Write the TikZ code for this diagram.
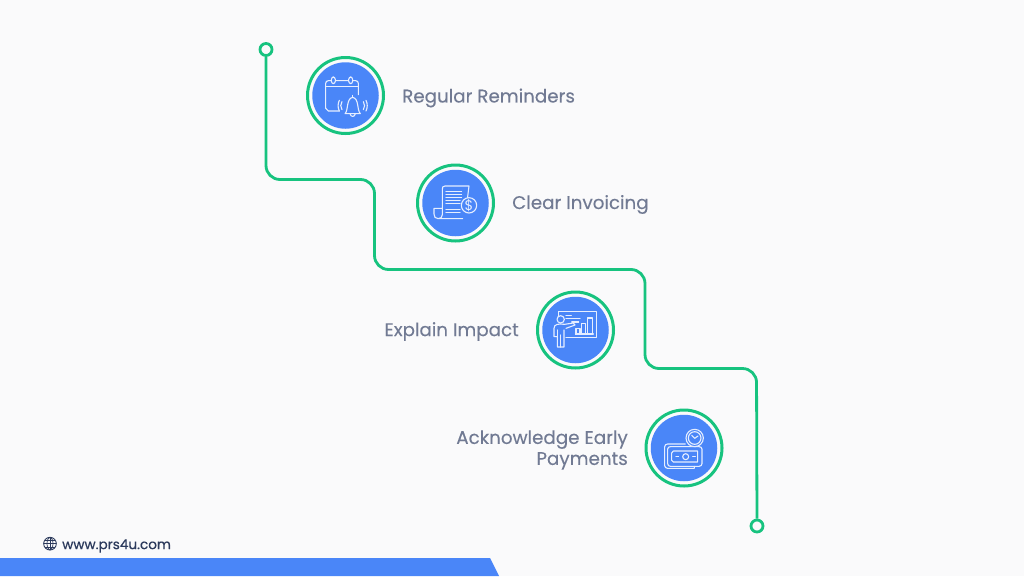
\documentclass[tikz,border=0pt]{standalone}
\usepackage{fontspec}
\setmainfont{Poppins}
\newfontfamily\webfont[FakeBold=0.6]{Poppins}
\newfontfamily\labelfont[FakeBold=0.15]{Poppins}
\definecolor{bgc}{HTML}{FAFAFB}
\definecolor{blu}{HTML}{4A86F8}
\definecolor{grn}{HTML}{17C37F}
\definecolor{txt}{HTML}{717A93}
\definecolor{web}{HTML}{2C3A5C}
\definecolor{ico}{HTML}{E6EEFF}
\tikzset{
  badge/.style={circle,draw=grn,line width=3pt,fill=bgc,minimum size=76pt,inner sep=0pt},
  core/.style={circle,fill=blu,minimum size=66.5pt,inner sep=0pt},
  label/.style={text=txt,font=\labelfont\fontsize{18.3}{21}\selectfont,inner sep=0pt},
  endpt/.style={circle,draw=grn,line width=2.8pt,fill=bgc,minimum size=12pt,inner sep=0pt},
  route/.style={draw=grn,line width=2.8pt,rounded corners=14pt},
  ic/.style={draw=ico,line width=1.1pt,line cap=round,line join=round},
  local/.style={x=0.33333pt,y=-0.33333pt}
}
\begin{document}
\begin{tikzpicture}[x=1pt,y=-1pt]
\useasboundingbox (0,0) rectangle (1024,576);
\fill[bgc] (0,0) rectangle (1024,576);
\fill[blu] (0,558) -- (490,558) -- (499,576) -- (0,576) -- cycle;

% route
\node[endpt] (start) at (266,49.5) {};
\node[endpt] (finish) at (757,526) {};
\coordinate (c1) at (266,179.5);
\coordinate (c2) at (374.5,179.5);
\coordinate (c3) at (374.5,269.5);
\coordinate (c4) at (645,269.5);
\coordinate (c5) at (645,368.5);
\coordinate (c6) at (756.5,368.5);
\path[route] (start) -- (c1) -- (c2) -- (c3) -- (c4) -- (c5) -- (c6) -- (finish);

% badges
\node[badge] (b1) at (345.5,95.5) {};
\node[core] at (b1) {};
\node[badge] (b2) at (455.5,203) {};
\node[core] at (b2) {};
\node[badge] (b3) at (575.5,330) {};
\node[core] at (b3) {};
\node[badge] (b4) at (684,448) {};
\node[core] at (b4) {};

% labels
\node[label,anchor=west] (l1) at (402,98) {Regular Reminders};
\node[label,anchor=west] (l2) at (512,204.5) {Clear Invoicing};
\node[label,anchor=east] (l3) at (519,331.5) {Explain Impact};
\node[label,anchor=east,align=right] (l4) at (628,450) {Acknowledge Early\\Payments};

% icon 1: calendar and bell
\begin{scope}[shift={(300,50)},local]
\draw[ic] (118,183) -- (85,183) to[out=180,in=90] (77,175) -- (77,100) to[out=90,in=180] (85,92) -- (93,92);
\draw[ic] (108,92) -- (145,92) (160,92) -- (167,92) to[out=0,in=90] (175,100) -- (175,134);
\draw[ic] (77,109) -- (175,109);
\draw[ic,rounded corners=2.5pt] (94,81) rectangle (106,101);
\draw[ic,rounded corners=2.5pt] (146,81) rectangle (158,101);
\draw[ic] (135,191) .. controls (146,180) and (138,146) .. (158,142) .. controls (178,146) and (170,180) .. (181,191) -- cycle;
\draw[ic] (158,136) -- (158,142);
\draw[ic] (150,191) .. controls (152,202) and (164,202) .. (166,191);
\draw[ic] (126,155) .. controls (121,163) and (121,171) .. (126,179);
\draw[ic] (118,151) .. controls (113,161) and (113,173) .. (118,183);
\draw[ic] (190,155) .. controls (195,163) and (195,171) .. (190,179);
\draw[ic] (198,151) .. controls (203,161) and (203,173) .. (198,183);
\end{scope}

% icon 2: invoice
\begin{scope}[shift={(410,158)},local]
\draw[ic] (84,182) -- (158,182) (172,160) -- (172,140) (172,124) -- (177,84) -- (105,84) .. controls (98,84) and (97,88) .. (97,94) -- (97,170) .. controls (97,178) and (92,182) .. (84,182) .. controls (76,182) and (72,176) .. (72,168) -- (72,151) -- (97,151);
\draw[ic] (108,100) -- (155,100) (108,109) -- (155,109) (108,118) -- (155,118) (108,127) -- (150,127) (108,137) -- (150,137) (108,154) -- (150,154) (108,164) -- (150,164);
\fill[blu] (177,142) circle[radius=23];
\draw[ic] (177,142) circle[radius=23];
\node[text=ico,font=\fontsize{14}{14}\selectfont,inner sep=0pt] at (177,142) {\$};
\end{scope}

% icon 3: presenter
\begin{scope}[shift={(530,285)},local]
\draw[ic] (85,95) -- (85,80) -- (199,80) -- (199,158) -- (108,158);
\draw[ic] (92,103) circle[radius=11];
\draw[ic] (108,92) -- (124,92) (108,101) -- (150,101) (125,111) -- (146,111);
\draw[ic] (108,130) -- (135,120) -- (130,114) -- (103,118) .. controls (85,115) and (72,118) .. (72,130) -- (72,155) -- (82,155) -- (82,186) -- (102,186) -- (102,135);
\draw[ic] (92,150) -- (92,186) (82,135) -- (82,155);
\draw[ic] (138,147) -- (138,130) -- (150,130) -- (150,147) -- cycle;
\draw[ic] (155,147) -- (155,116) -- (167,116) -- (167,147) -- cycle;
\draw[ic] (172,147) -- (172,99) -- (188,99) -- (188,147) -- cycle;
\draw[ic] (136,147) -- (190,147);
\end{scope}

% icon 4: money and clock
\begin{scope}[shift={(640,403)},local]
\draw[ic] (163,190) -- (163,196) -- (83,196) to[out=180,in=-90] (74,188) -- (74,131) to[out=90,in=180] (83,123) -- (136,123);
\draw[ic] (83,138) -- (83,182) to[out=-90,in=180] (91,190) -- (177,190) to[out=0,in=-90] (186,182) -- (186,138) to[out=90,in=0] (177,131) -- (91,131) to[out=180,in=90] (83,138);
\draw[ic] (100,144) -- (173,144) -- (173,177) -- (100,177) -- (95,172) -- (95,150) -- cycle;
\draw[ic] (137,161) circle[radius=9];
\draw[ic] (108,161) -- (116,161) (158,161) -- (166,161);
\fill[blu] (164,105) circle[radius=26];
\draw[ic] (164,105) circle[radius=26];
\draw[ic] (164,105) circle[radius=19];
\draw[ic] (155,97) -- (164,106) -- (174,99);
\end{scope}

% website
\begin{scope}[shift={(0,526)},local]
\draw[web,line width=0.9pt] (150,53) circle[radius=19];
\draw[web,line width=0.7pt] (150,53) ellipse[x radius=9,y radius=19];
\draw[web,line width=0.7pt] (150,34) -- (150,72) (131,53) -- (169,53) (134,43) -- (166,43) (134,63) -- (166,63);
\end{scope}
\node[text=web,font=\webfont\fontsize{13.6}{15}\selectfont,anchor=west,inner sep=0pt] (site) at (62,546) {www.prs4u.com};
\end{tikzpicture}
\end{document}
